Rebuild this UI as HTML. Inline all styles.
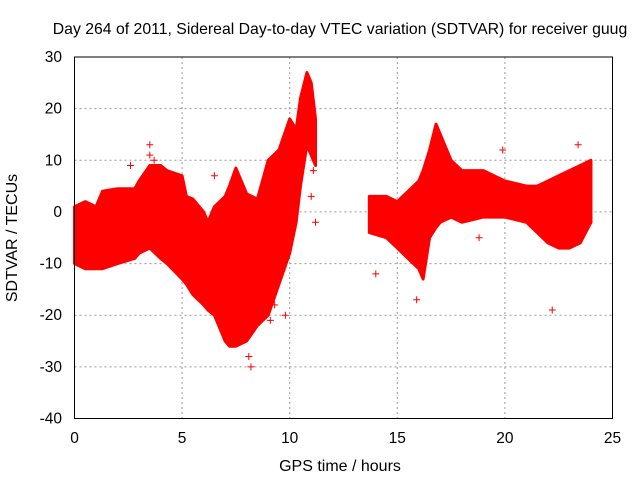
<!DOCTYPE html>
<html><head><meta charset="utf-8"><style>
body{margin:0;background:#fff;}
svg text{font-family:"Liberation Sans",sans-serif;font-size:15.5px;fill:#000;}
</style></head><body>
<svg id="chart" width="640" height="480" xmlns="http://www.w3.org/2000/svg">
<text x="340" y="34" text-anchor="middle" style="font-size:15.8px">Day 264 of 2011, Sidereal Day-to-day VTEC variation (SDTVAR) for receiver guug</text>
<g id="grid"></g>
<g id="marks"></g>
<rect x="74.5" y="57" width="538" height="361.5" fill="none" stroke="#000" stroke-width="1"/>
<g id="ticks"></g>
<text x="340" y="471" text-anchor="middle" style="font-size:16px">GPS time / hours</text>
<text transform="translate(17,238) rotate(-90)" text-anchor="middle" style="font-size:16px">SDTVAR / TECUs</text>
</svg>
<script>
const xTicks=[0,5,10,15,20,25];
const yTicks=[-40,-30,-20,-10,0,10,20,30];
const seg1Time=[0,0.5,1,1.3,2,2.8,3,3.5,4,4.3,5,5.2,5.5,6,6.2,6.5,7,7.2,7.5,8,8.5,9,9.5,10,10.3,10.5,10.8,11,11.2];
const seg1Upper=[1,2,1,4,4.5,4.5,6,9,9,8,7,3,2.5,0,-2,1,3,5,8.5,3.5,2.5,10,12,18,16,22,27,25,18];
const seg1Lower=[-10,-11,-11,-11,-10,-9,-8,-7,-9,-10,-13,-14,-16,-18,-19,-20,-25,-26,-26,-25,-22,-20,-14,-8,-2,5,13,11,9];
const seg2Time=[13.7,14.5,15,15.5,16,16.2,16.5,16.8,17,17.5,18,19,20,21,21.5,22,22.5,23,23.5,24];
const seg2Upper=[3,3,2,4,6,8,12,17,15,10,8,8,6,5,5,6,7,8,9,10];
const seg2Lower=[-4,-5,-7,-9,-11,-13,-5,-3,-2,-1,-2,-1,-1,-2,-4,-6,-7,-7,-6,-2];
const outT=[3.5,3.5,2.6,8.2,9.1,9.8,11.2,11.1,15.9,22.2,23.4,19.9,18.8,6.5,11,8.1,3.7,9.3,14];
const outV=[13,11,9,-30,-21,-20,-2,8,-17,-19,13,12,-5,7,3,-28,10,-18,-12];
const X=t=>74.5+t*538/25;
const Y=v=>418.5-(v+40)*361.5/70;
const ns="http://www.w3.org/2000/svg";
const grid=document.getElementById('grid'),ticks=document.getElementById('ticks'),marks=document.getElementById('marks');
function mk(tag,attrs,parent){const e=document.createElementNS(ns,tag);for(const k in attrs)e.setAttribute(k,attrs[k]);parent.appendChild(e);return e;}
xTicks.forEach(t=>{
  if(t>0&&t<25){const g=mk('line',{x1:X(t),x2:X(t),y1:57,y2:418.5,stroke:'#999','stroke-dasharray':'2,3'},grid);
  
  }
  const l=mk('text',{x:X(t),y:443,'text-anchor':'middle'},ticks);l.textContent=t;
  
  
});
yTicks.forEach(v=>{
  if(v>-40&&v<30){const g=mk('line',{x1:74.5,x2:612.5,y1:Y(v),y2:Y(v),stroke:'#999','stroke-dasharray':'2,3'},grid);
  
  }
  const l=mk('text',{x:62,y:Y(v)+5,'text-anchor':'end'},ticks);l.textContent=v;
  
  
});
function band(T,U,L,name){
  let pts=T.map((t,i)=>X(t)+','+Y(U[i]));
  for(let i=T.length-1;i>=0;i--)pts.push(X(T[i])+','+Y(L[i]));
  const p=mk('polygon',{points:pts.join(' '),fill:'#f00',stroke:'#f00','stroke-width':3,'stroke-linejoin':'round'},marks);
  
  
}
band(seg1Time,seg1Upper,seg1Lower,'band-segment-1');
band(seg2Time,seg2Upper,seg2Lower,'band-segment-2');
outT.forEach((t,i)=>{
  const x=X(t),y=Y(outV[i]);
  const p=mk('path',{d:`M${x-3.5},${y}H${x+3.5}M${x},${y-3.5}V${y+3.5}`,stroke:'#f00','stroke-width':1},marks);
  
  
});
</script>
</body></html>
